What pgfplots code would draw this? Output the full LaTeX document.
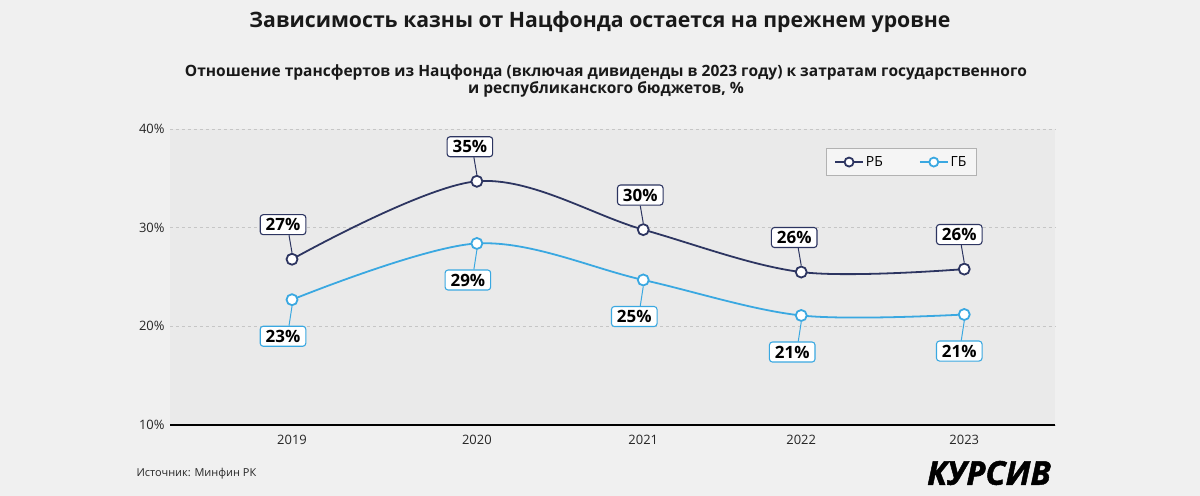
\documentclass[border=0pt]{standalone}
\usepackage{pgfplots}
\pgfplotsset{compat=1.18}
\usepackage{fontspec}
\setmainfont{Open Sans}
\definecolor{rb}{HTML}{2D3561}
\definecolor{gb}{HTML}{3AA8E1}
\definecolor{bgc}{HTML}{F0F0F0}
\definecolor{plotbg}{HTML}{EAEAEA}
\definecolor{legbg}{HTML}{F5F5F5}
\tikzset{
  callout/.style={draw=#1, line width=1.1pt, rounded corners=3bp, fill=white,
    inner xsep=5.5bp, inner ysep=3.8bp, font=\bfseries\fontsize{17}{18}\selectfont, text=black}
}
\begin{document}
\begin{tikzpicture}
\fill[bgc] (0bp,0bp) rectangle (1200bp,496bp);
\useasboundingbox (0bp,0bp) rectangle (1200bp,496bp);
\node[font=\bfseries\fontsize{21.3}{24}\selectfont, text=black!90] at (600bp,474bp) {Зависимость казны от Нацфонда остается на прежнем уровне};
\node[font=\bfseries\fontsize{15.6}{18}\selectfont, text=black!90, align=center] at (606bp,415bp) {Отношение трансфертов из Нацфонда (включая дивиденды в 2023 году) к затратам государственного\\и республиканского бюджетов, \%};
\node[anchor=west, font=\fontsize{11}{13}\selectfont, text=black!85] at (133bp,22bp) {Источник: Минфин РК};
\node[font=\addfontfeatures{FakeBold=1.5}\bfseries\itshape\fontsize{33}{34}\selectfont] at (989bp,23bp) {КУРСИВ};
\begin{axis}[
  at={(170bp,71bp)}, anchor=south west, scale only axis,
  width=885bp, height=296bp,
  xmin=-0.726, xmax=4.54, ymin=10, ymax=40,
  axis background/.style={fill=plotbg},
  axis lines=left,
  x axis line style={black, line width=1.2pt, -},
  y axis line style={draw=none},
  major tick length=0pt,
  xtick={0,1.1,2.09,3.03,4},
  xticklabels={2019,2020,2021,2022,2023},
  ytick={10,20,30,40},
  yticklabel={\pgfmathprintnumber{\tick}\%},
  /pgf/number format/assume math mode=true,
  yticklabel style={font=\fontsize{13}{14}\selectfont, text=black!85, xshift=-2bp},
  xticklabel style={font=\fontsize{13}{14}\selectfont, text=black!85, yshift=-7bp},
  ymajorgrids,
  grid style={dashed, gray!45, line width=0.8pt},
  legend columns=2,
  legend style={at={(0.741,0.936)}, anchor=north west, draw=gray!60, fill=legbg,
    line width=0.8pt, font=\fontsize{14}{16}\selectfont, inner xsep=8bp, inner ysep=6bp,
    /tikz/every even column/.append style={column sep=34bp}},
  legend image code/.code={\draw[mark repeat=2,mark phase=2,mark size=4.5bp] plot coordinates {(0bp,0bp) (14bp,0bp) (28bp,0bp)};},
  every axis plot/.append style={line width=1.8pt, smooth, tension=0.55, mark=*, mark size=5.5bp, mark options={fill=white, line width=1.8pt}},
]
\addplot[rb] coordinates {(0,26.8) (1.1,34.7) (2.09,29.8) (3.03,25.5) (4,25.8)};
\addlegendentry{РБ}
\addplot[gb] coordinates {(0,22.7) (1.1,28.4) (2.09,24.7) (3.03,21.1) (4,21.2)};
\addlegendentry{ГБ}
% callouts RB
\draw[rb, line width=1pt] ([yshift=6.5bp]axis cs:0,26.8) -- ([xshift=-3bp,yshift=24bp]axis cs:0,26.8) node[callout=rb, anchor=south, xshift=-6bp] {27\%};
\draw[rb, line width=1pt] ([yshift=6.5bp]axis cs:1.1,34.7) -- ([xshift=-3bp,yshift=24bp]axis cs:1.1,34.7) node[callout=rb, anchor=south, xshift=-4bp] {35\%};
\draw[rb, line width=1pt] ([yshift=6.5bp]axis cs:2.09,29.8) -- ([xshift=-3bp,yshift=24bp]axis cs:2.09,29.8) node[callout=rb, anchor=south, xshift=0bp] {30\%};
\draw[rb, line width=1pt] ([yshift=6.5bp]axis cs:3.03,25.5) -- ([xshift=-3bp,yshift=24bp]axis cs:3.03,25.5) node[callout=rb, anchor=south, xshift=-4bp] {26\%};
\draw[rb, line width=1pt] ([yshift=6.5bp]axis cs:4,25.8) -- ([xshift=-3bp,yshift=24bp]axis cs:4,25.8) node[callout=rb, anchor=south, xshift=-2bp] {26\%};
% callouts GB
\draw[gb, line width=1pt] ([yshift=-6.5bp]axis cs:0,22.7) -- ([xshift=-3bp,yshift=-26bp]axis cs:0,22.7) node[callout=gb, anchor=north, xshift=-6bp] {23\%};
\draw[gb, line width=1pt] ([yshift=-6.5bp]axis cs:1.1,28.4) -- ([xshift=-3bp,yshift=-26bp]axis cs:1.1,28.4) node[callout=gb, anchor=north, xshift=-6bp] {29\%};
\draw[gb, line width=1pt] ([yshift=-6.5bp]axis cs:2.09,24.7) -- ([xshift=-3bp,yshift=-26bp]axis cs:2.09,24.7) node[callout=gb, anchor=north, xshift=-6bp] {25\%};
\draw[gb, line width=1pt] ([yshift=-6.5bp]axis cs:3.03,21.1) -- ([xshift=-3bp,yshift=-26bp]axis cs:3.03,21.1) node[callout=gb, anchor=north, xshift=-6bp] {21\%};
\draw[gb, line width=1pt] ([yshift=-6.5bp]axis cs:4,21.2) -- ([xshift=-3bp,yshift=-26bp]axis cs:4,21.2) node[callout=gb, anchor=north, xshift=-2bp] {21\%};
\end{axis}
\end{tikzpicture}
\end{document}
